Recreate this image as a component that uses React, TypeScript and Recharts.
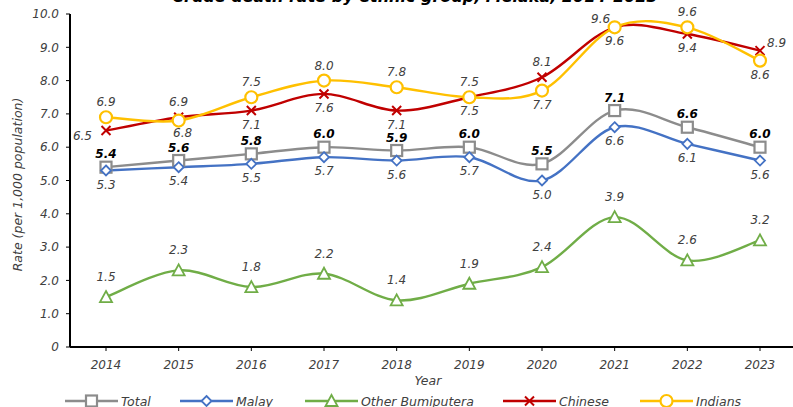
import React from 'react';
import { LineChart, Line, XAxis, YAxis } from 'recharts';

const years = ['2014', '2015', '2016', '2017', '2018', '2019', '2020', '2021', '2022', '2023'];
const totalRate = [5.4, 5.6, 5.8, 6.0, 5.9, 6.0, 5.5, 7.1, 6.6, 6.0];
const malayRate = [5.3, 5.4, 5.5, 5.7, 5.6, 5.7, 5.0, 6.6, 6.1, 5.6];
const otherBumiRate = [1.5, 2.3, 1.8, 2.2, 1.4, 1.9, 2.4, 3.9, 2.6, 3.2];
const chineseRate = [6.5, 6.9, 7.1, 7.6, 7.1, 7.5, 8.1, 9.6, 9.4, 8.9];
const indiansRate = [6.9, 6.8, 7.5, 8.0, 7.8, 7.5, 7.7, 9.6, 9.6, 8.6];
const yTicks = [0, 1, 2, 3, 4, 5, 6, 7, 8, 9, 10];

const data = years.map((year, i) => ({
  year,
  total: totalRate[i],
  malay: malayRate[i],
  otherBumi: otherBumiRate[i],
  chinese: chineseRate[i],
  indians: indiansRate[i],
}));

// label placement per point (style only)
const totalPos = ['T', 'T', 'T', 'T', 'T', 'T', 'T', 'T', 'T', 'T'];
const malayPos = ['B', 'B', 'B', 'B', 'B', 'B', 'B', 'B', 'B', 'B'];
const otherPos = ['T2', 'T2', 'T2', 'T2', 'T2', 'T2', 'T2', 'T2', 'T2', 'T2'];
const chinesePos = ['L', 'T', 'B', 'B', 'B', 'T', 'T', 'TL', 'B', 'R'];
const indiansPos = ['T', 'BR', 'T', 'T', 'T', 'B', 'B', 'B', 'T', 'B'];

const FONT = '"DejaVu Sans", sans-serif';
const LABEL_COLOR = '#404040';

const C_TOTAL = '#8c8c8c';
const C_MALAY = '#4472c4';
const C_OTHER = '#70ad47';
const C_CHINESE = '#c00000';
const C_INDIANS = '#ffc000';

// Excel-like smoothed line (Catmull-Rom, uniform)
function excelCurve(context: any) {
  let pts: number[][] = [];
  return {
    areaStart() {},
    areaEnd() {},
    lineStart() {
      pts = [];
    },
    point(x: number, y: number) {
      pts.push([+x, +y]);
    },
    lineEnd() {
      const n = pts.length;
      if (!n) return;
      context.moveTo(pts[0][0], pts[0][1]);
      for (let i = 0; i < n - 1; i++) {
        const p0 = pts[i - 1] || pts[i];
        const p1 = pts[i];
        const p2 = pts[i + 1];
        const p3 = pts[i + 2] || p2;
        const c1x = p1[0] + (p2[0] - p0[0]) / 6;
        const c1y = p1[1] + (p2[1] - p0[1]) / 6;
        const c2x = p2[0] - (p3[0] - p1[0]) / 6;
        const c2y = p2[1] - (p3[1] - p1[1]) / 6;
        context.bezierCurveTo(c1x, c1y, c2x, c2y, p2[0], p2[1]);
      }
    },
  };
}

function marker(kind: string, cx: number, cy: number, color: string) {
  if (kind === 'square') {
    return <rect x={cx - 5.5} y={cy - 5.5} width={11} height={11} fill="#fff" stroke={color} strokeWidth={2.2} />;
  }
  if (kind === 'diamond') {
    return (
      <path
        d={`M${cx},${cy - 5}L${cx + 5},${cy}L${cx},${cy + 5}L${cx - 5},${cy}Z`}
        fill="#fff"
        stroke={color}
        strokeWidth={1.8}
      />
    );
  }
  if (kind === 'triangle') {
    return (
      <path
        d={`M${cx},${cy - 6}L${cx + 6},${cy + 5}L${cx - 6},${cy + 5}Z`}
        fill="#fff"
        stroke={color}
        strokeWidth={1.8}
      />
    );
  }
  if (kind === 'x') {
    return (
      <path
        d={`M${cx - 4.5},${cy - 4.5}L${cx + 4.5},${cy + 4.5}M${cx + 4.5},${cy - 4.5}L${cx - 4.5},${cy + 4.5}`}
        stroke={color}
        strokeWidth={2}
        fill="none"
      />
    );
  }
  return <circle cx={cx} cy={cy} r={6} fill="#fff" stroke={color} strokeWidth={2.2} />;
}

function makeDot(kind: string, color: string) {
  return (p: any) => {
    if (p.cx == null || p.cy == null) return <g key={`d-${kind}-${p.index}`} />;
    return <g key={`d-${kind}-${p.index}`}>{marker(kind, p.cx, p.cy, color)}</g>;
  };
}

function makeLabelDot(kind: string, pos: string[], bold: boolean) {
  return (p: any) => {
    if (p.cx == null || p.cy == null) return <g key={`l-${kind}-${p.index}`} />;
    const where = pos[p.index];
    let x = p.cx;
    let y = p.cy;
    let anchor: any = 'middle';
    if (where === 'T') y -= bold ? 13 : 15;
    else if (where === 'T2') y -= 20;
    else if (where === 'B') y += 14;
    else if (where === 'BR') {
      x += 4;
      y += 12;
    } else if (where === 'L') {
      x -= 14;
      y += 5;
      anchor = 'end';
    } else if (where === 'R') {
      x += 7;
      y -= 8;
      anchor = 'start';
    } else if (where === 'TL') {
      x -= 14;
      y -= 8;
    }
    const v = p.value != null ? (Array.isArray(p.value) ? p.value[1] : p.value) : p.payload[kind];
    return (
      <text
        key={`l-${kind}-${p.index}`}
        x={x}
        y={y}
        textAnchor={anchor}
        dominantBaseline="central"
        fontFamily={FONT}
        fontStyle="italic"
        fontWeight={bold ? 'bold' : 'normal'}
        fontSize={12}
        fill={bold ? '#000' : LABEL_COLOR}
      >
        {Number(v).toFixed(1)}
      </text>
    );
  };
}

const series = [
  { key: 'total', name: 'Total', color: C_TOTAL, kind: 'square', pos: totalPos, bold: true },
  { key: 'malay', name: 'Malay', color: C_MALAY, kind: 'diamond', pos: malayPos, bold: false },
  { key: 'otherBumi', name: 'Other Bumiputera', color: C_OTHER, kind: 'triangle', pos: otherPos, bold: false },
  { key: 'chinese', name: 'Chinese', color: C_CHINESE, kind: 'x', pos: chinesePos, bold: false },
  { key: 'indians', name: 'Indians', color: C_INDIANS, kind: 'circle', pos: indiansPos, bold: false },
];

const legendX = [65, 180, 305, 503, 640];

const YLabel = (props: any) => {
  const vb = props.viewBox || {};
  const cy = (vb.y ?? 14) + (vb.height ?? 333) / 2 + 4;
  return (
    <text
      x={17}
      y={cy}
      transform={`rotate(-90, 17, ${cy})`}
      textAnchor="middle"
      dominantBaseline="central"
      fontFamily={FONT}
      fontStyle="italic"
      fontSize={12.5}
      fill={LABEL_COLOR}
    >
      Rate (per 1,000 population)
    </text>
  );
};

export default function App() {
  const tickStyle = { fontFamily: FONT, fontStyle: 'italic', fontSize: 12, fill: LABEL_COLOR };
  return (
    <div style={{ position: 'absolute', left: 0, top: 0, width: 793, height: 407, overflow: 'hidden', background: '#fff' }}>
      <div
        style={{
          position: 'absolute',
          left: 0,
          top: -13,
          width: 830,
          textAlign: 'center',
          fontFamily: FONT,
          fontWeight: 'bold',
          fontStyle: 'italic',
          fontSize: 16,
          lineHeight: '19px',
          color: '#000',
        }}
      >
        Crude death rate by ethnic group, Melaka, 2014-2023
      </div>
      <LineChart width={800} height={420} data={data} margin={{ top: 14, right: 4, bottom: 43, left: 0 }}>
        <XAxis
          dataKey="year"
          height={30}
          padding={{ left: 36, right: 36 }}
          axisLine={{ stroke: '#000', strokeWidth: 2 }}
          tickLine={{ stroke: '#000', strokeWidth: 1 }}
          tickSize={4}
          tickMargin={9}
          tick={tickStyle}
          interval={0}
          label={{
            value: 'Year',
            position: 'bottom',
            offset: -1,
            dx: -5,
            style: { fontFamily: FONT, fontStyle: 'italic', fontSize: 12.5, fill: LABEL_COLOR },
          }}
        />
        <YAxis
          width={70}
          domain={[0, 10]}
          ticks={yTicks}
          interval={0}
          tickFormatter={(v: number) => (v === 0 ? '0' : v.toFixed(1))}
          axisLine={{ stroke: '#000', strokeWidth: 2 }}
          tickLine={{ stroke: '#000', strokeWidth: 1 }}
          tickSize={4}
          tickMargin={7}
          tick={tickStyle}
          label={<YLabel />}
        />
        {series.map((s) => (
          <Line
            key={s.key}
            dataKey={s.key}
            name={s.name}
            type={excelCurve as any}
            stroke={s.color}
            strokeWidth={2.4}
            dot={makeDot(s.kind, s.color)}
            activeDot={false}
            isAnimationActive={false}
          />
        ))}
        {series.map((s) => (
          <Line
            key={`${s.key}-labels`}
            dataKey={s.key}
            legendType="none"
            stroke="none"
            dot={makeLabelDot(s.key, s.pos, s.bold)}
            activeDot={false}
            isAnimationActive={false}
          />
        ))}
      </LineChart>
      <svg style={{ position: 'absolute', left: 0, top: 390 }} width={793} height={20}>
        {series.map((s, i) => {
          const x0 = legendX[i];
          return (
            <g key={s.key}>
              <line x1={x0} y1={11} x2={x0 + 53} y2={11} stroke={s.color} strokeWidth={2.4} />
              {marker(s.kind, x0 + 26.5, 11, s.color)}
              <text
                x={x0 + 56}
                y={11}
                dominantBaseline="central"
                fontFamily={FONT}
                fontStyle="italic"
                fontSize={12.5}
                fill={LABEL_COLOR}
              >
                {s.name}
              </text>
            </g>
          );
        })}
      </svg>
    </div>
  );
}
